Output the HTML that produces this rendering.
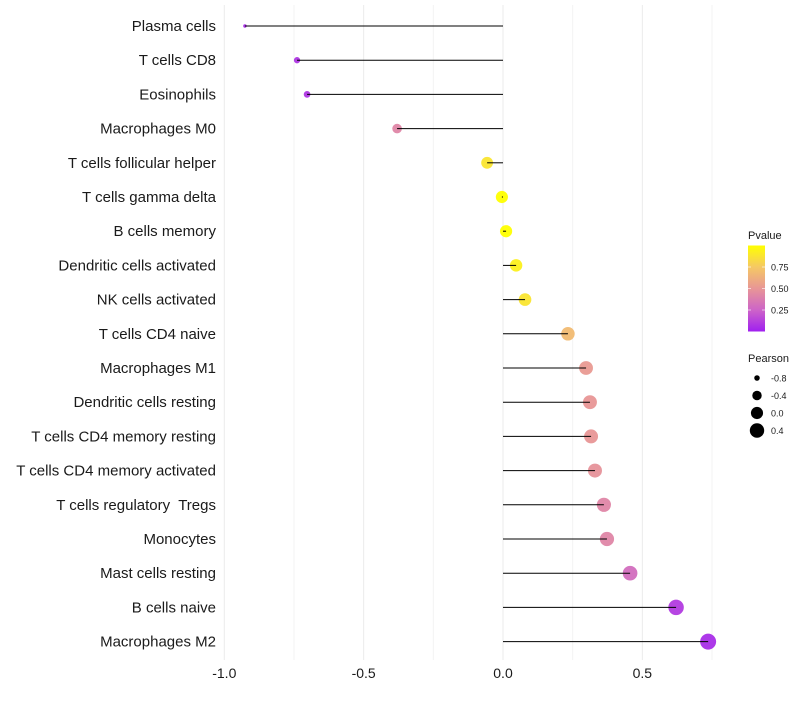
<!DOCTYPE html>
<html><head><meta charset="utf-8"><style>
body{margin:0;background:#fff;font-family:"Liberation Sans",sans-serif;}
</style></head><body>
<svg id="chart" width="800" height="700" xmlns="http://www.w3.org/2000/svg" font-family="Liberation Sans, sans-serif"></svg>
<script>
const categories=["Plasma cells","T cells CD8","Eosinophils","Macrophages M0","T cells follicular helper","T cells gamma delta","B cells memory","Dendritic cells activated","NK cells activated","T cells CD4 naive","Macrophages M1","Dendritic cells resting","T cells CD4 memory resting","T cells CD4 memory activated","T cells regulatory  Tregs","Monocytes","Mast cells resting","B cells naive","Macrophages M2"];
const pearson=[-0.926,-0.739,-0.703,-0.38,-0.057,-0.004,0.011,0.047,0.079,0.233,0.298,0.312,0.316,0.33,0.362,0.373,0.456,0.621,0.736];
const pvalue=[0.05,0.08,0.08,0.42,0.88,1.0,1.0,0.93,0.88,0.68,0.52,0.5,0.5,0.48,0.42,0.42,0.3,0.1,0.05];
const xTicks=[-1,-0.5,0,0.5];
const xTickLabels=["-1.0","-0.5","0.0","0.5"];
const pTicks=[0.25,0.5,0.75];
const pTickLabels=["0.25","0.50","0.75"];
const sizeLegend=[-0.8,-0.4,0.0,0.4];
const sizeLegendLabels=["-0.8","-0.4","0.0","0.4"];

const NS="http://www.w3.org/2000/svg";
const svg=document.getElementById('chart');
function mk(tag,attrs,parent){const e=document.createElementNS(NS,tag);for(const k in attrs)e.setAttribute(k,attrs[k]);(parent||svg).appendChild(e);return e;}
const x=v=>503+(v)*278.7;
const y=i=>26+i*34.2;
const pMin=Math.min(...pearson),pMax=Math.max(...pearson);
const r=v=>Math.sqrt(3+(v-pMin)/(pMax-pMin)*(64-3));
const stops=[[160,32,240],[205,100,200],[232,150,150],[245,200,100],[255,255,0]];
function col(p){p=Math.max(0,Math.min(1,p));const s=Math.min(3,Math.floor(p*4));const t=p*4-s;const a=stops[s],b=stops[s+1];return `rgb(${a.map((c,i)=>Math.round(c+(b[i]-c)*t)).join(',')})`;}

for(let v=-1;v<=0.76;v+=0.25){
  const g=mk('line',{x1:x(v),x2:x(v),y1:5,y2:660,stroke:Math.abs(v*2-Math.round(v*2))<1e-6?'#ebebeb':'#f3f3f3','stroke-width':1});
  
  
}
categories.forEach((c,i)=>{
  const t=mk('text',{x:216,y:y(i)+5,'text-anchor':'end','font-size':15,fill:'#1a1a1a','xml:space':'preserve'});
  t.style.whiteSpace='pre';
  t.textContent=c;
  
  
  const d=mk('circle',{cx:x(pearson[i]),cy:y(i),r:r(pearson[i]),fill:col(pvalue[i]),'fill-opacity':0.95});
  
  
  const l=mk('line',{x1:x(0),x2:x(pearson[i]),y1:y(i),y2:y(i),stroke:'#000','stroke-width':1});
  
  
});
xTicks.forEach((v,i)=>{
  const t=mk('text',{x:x(v),y:678,'text-anchor':'middle','font-size':14,fill:'#1a1a1a'});
  t.textContent=xTickLabels[i];
  
  
});
const defs=mk('defs',{});
const grad=mk('linearGradient',{id:'pg',x1:0,y1:1,x2:0,y2:0},defs);
[0,0.25,0.5,0.75,1].forEach(o=>mk('stop',{offset:o,'stop-color':col(o)},grad));
const lt=mk('text',{x:748,y:239,'font-size':11,fill:'#1a1a1a'});lt.textContent='Pvalue';


const bar=mk('rect',{x:748,y:245.5,width:17,height:86,fill:'url(#pg)'});


pTicks.forEach((p,i)=>{
  const yy=331.5-p*86;
  mk('line',{x1:748,x2:751,y1:yy,y2:yy,stroke:'#fff','stroke-opacity':0.6});
  mk('line',{x1:762,x2:765,y1:yy,y2:yy,stroke:'#fff','stroke-opacity':0.6});
  const t=mk('text',{x:771,y:yy+3.5,'font-size':9,fill:'#1a1a1a'});t.textContent=pTickLabels[i];
  
  
});
const st=mk('text',{x:748,y:362,'font-size':11,fill:'#1a1a1a'});st.textContent='Pearson';


sizeLegend.forEach((v,i)=>{
  const yy=378+i*17.5;
  const c=mk('circle',{cx:757,cy:yy,r:r(v),fill:'#000'});
  
  
  const t=mk('text',{x:771,y:yy+3.5,'font-size':9,fill:'#1a1a1a'});t.textContent=sizeLegendLabels[i];
  
  
});
</script>
</body></html>
